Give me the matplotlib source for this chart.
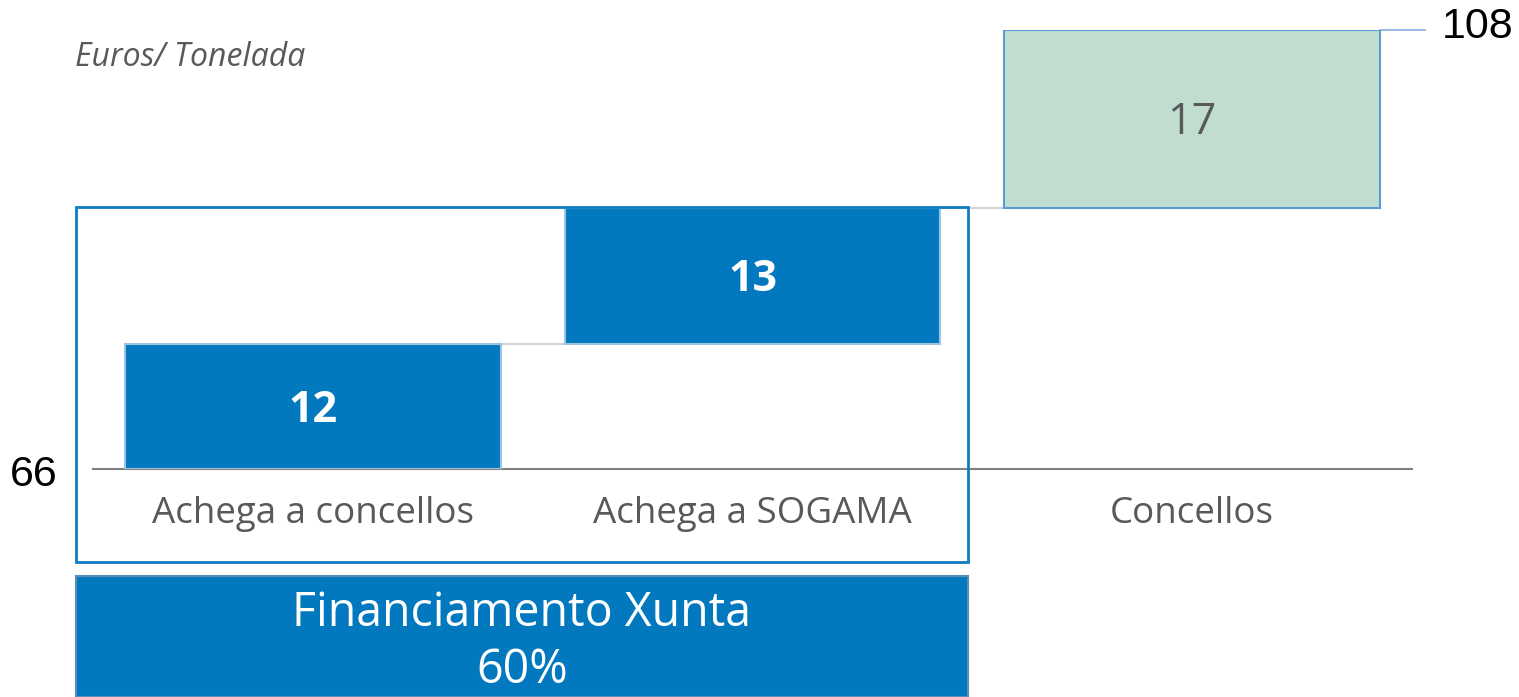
import numpy as np
import matplotlib
matplotlib.use("Agg")
import matplotlib.pyplot as plt
from matplotlib.patches import Rectangle

# Waterfall data (Euros / Tonelada)
categories = ["Achega a concellos", "Achega a SOGAMA", "Concellos"]
start_value = 66
increments = [12, 13, 17]
total_value = start_value + sum(increments)
bar_colors = ["#0279BE", "#0279BE", "#C0DDD0"]
edge_colors = ["#9CC3E4", "#9CC3E4", "#5B9BD5"]
label_colors = ["white", "white", "#595959"]
label_weights = ["bold", "bold", "normal"]
box_title = "Financiamento Xunta\n60%"

W, H = 1519, 697
plt.rcParams["font.family"] = ["Open Sans", "DejaVu Sans"]
fig = plt.figure(figsize=(W / 100, H / 100), dpi=100)
fig.patch.set_facecolor("white")

# Axes area in pixel terms
ax_left, ax_right, ax_bottom, ax_top = 93, 1412, 469, 30
ax = fig.add_axes([ax_left / W, 1 - ax_bottom / H,
                   (ax_right - ax_left) / W, (ax_bottom - ax_top) / H])

x = np.arange(len(categories))
bottoms = start_value + np.concatenate([[0], np.cumsum(increments)[:-1]])
tops = bottoms + np.array(increments)
width = 0.855

ax.bar(x, increments, bottom=bottoms, width=width, color=bar_colors,
       edgecolor=edge_colors, linewidth=1.5, zorder=3)

# Connector lines between consecutive bars
for i in range(len(x) - 1):
    ax.plot([x[i] + width / 2, x[i + 1] - width / 2], [tops[i], tops[i]],
            color="#D3D3D3", lw=1.5, zorder=2)

# Value labels inside bars
for xi, b, v, c, fw in zip(x, bottoms, increments, label_colors, label_weights):
    ax.annotate(f"{v}", xy=(xi, b + v / 2), xytext=(0, -3),
                textcoords="offset points", ha="center", va="center",
                color=c, fontsize=31, fontweight=fw, zorder=4)

# Total marker line and label
ax.plot([x[-1] + width / 2, 2.53], [total_value, total_value],
        color="#8DB4E2", lw=1.3, clip_on=False, zorder=2)
ax.annotate(f"{total_value}", xy=(2.568, total_value), xytext=(0, 2),
            textcoords="offset points", ha="left", va="center",
            annotation_clip=False,
            fontsize=31, color="black", family=["Liberation Sans", "DejaVu Sans"])

ax.set_xlim(-0.5, 2.5)
ax.set_ylim(start_value, total_value)
for s in ["top", "right", "left"]:
    ax.spines[s].set_visible(False)
ax.spines["bottom"].set_color("#808080")
ax.spines["bottom"].set_linewidth(1.5)
ax.set_yticks([])
ax.set_xticks(x)
ax.set_xticklabels(categories, fontsize=26.5, color="#595959")
ax.tick_params(axis="x", length=0, pad=19.5)

# Baseline value
fig.text(34 / W, 1 - 475 / H, f"{start_value}", ha="center", va="center",
         fontsize=31, color="black", family=["Liberation Sans", "DejaVu Sans"])

# Unit label
fig.text(75 / W, 1 - 58 / H, "Euros/ Tonelada", ha="left", va="center",
         fontsize=23, style="italic", color="#595959")

# Outline grouping the two Xunta contributions
fig.add_artist(Rectangle((76 / W, 1 - 562 / H), (968 - 76) / W, (562 - 207) / H,
                         transform=fig.transFigure, fill=False,
                         edgecolor="#0E7DC2", linewidth=2, zorder=5))

# Financing banner
fig.add_artist(Rectangle((76 / W, 0), (968 - 76) / W, (697 - 576) / H,
                         transform=fig.transFigure, facecolor="#0279BE",
                         edgecolor="#5B8DB8", linewidth=1.5, zorder=5))
fig.text(522 / W, 1 - 642 / H, box_title, ha="center", va="center",
         fontsize=33.5, color="white", linespacing=1.25, zorder=6)

fig.savefig("out.png", dpi=100, facecolor="white")
